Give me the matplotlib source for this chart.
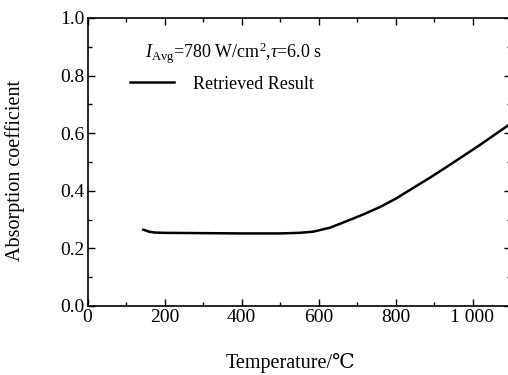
import matplotlib
matplotlib.use("Agg")
import matplotlib.pyplot as plt
from matplotlib.ticker import MultipleLocator, FixedLocator

plt.rcParams['font.family'] = ['Liberation Serif', 'DejaVu Serif', 'DejaVu Sans']
plt.rcParams['mathtext.fontset'] = 'custom'
plt.rcParams['mathtext.rm'] = 'Liberation Serif'
plt.rcParams['mathtext.it'] = 'Liberation Serif:italic'

temperature = [145, 160, 175, 200, 300, 400, 500, 550, 586, 630, 674, 720, 760, 800, 846, 890, 933, 975, 1019, 1060, 1100]
absorption = [0.265, 0.258, 0.255, 0.254, 0.253, 0.252, 0.252, 0.254, 0.258, 0.272, 0.295, 0.320, 0.344, 0.372, 0.410, 0.446, 0.483, 0.520, 0.559, 0.597, 0.634]
xtick_vals = [0, 200, 400, 600, 800, 1000]
xtick_labels = ['0', '200', '400', '600', '800', '1 000']
ytick_vals = [0.0, 0.2, 0.4, 0.6, 0.8, 1.0]

fig = plt.figure(figsize=(5.08, 3.75), dpi=100)
ax = fig.add_axes([87.5/508, (375-306)/375, (511-87.5)/508, (306-18)/375])

ax.plot(temperature, absorption, color='black', lw=1.8, label='Retrieved Result')

ax.set_xlim(0, 1100)
ax.set_ylim(0, 1.0)
ax.xaxis.set_major_locator(FixedLocator(xtick_vals))
ax.set_xticklabels(xtick_labels)
ax.xaxis.set_minor_locator(MultipleLocator(100))
ax.yaxis.set_major_locator(FixedLocator(ytick_vals))
ax.set_yticklabels([f'{v:.1f}' for v in ytick_vals])
ax.yaxis.set_minor_locator(MultipleLocator(0.1))
ax.tick_params(which='both', direction='in', top=True, right=True, labelsize=14, width=1.0)
ax.tick_params(which='major', length=5, pad=2)
ax.tick_params(which='minor', length=3)
for s in ax.spines.values():
    s.set_linewidth(1.2)

ax.set_xlabel('Temperature/\u2103', fontsize=14.5, va='center')
ax.xaxis.set_label_coords(0.48, -0.198)
ax.set_ylabel('Absorption coefficient', fontsize=14.5, va='center')
ax.yaxis.set_label_coords(-0.171, 0.472)

ax.text(0.136, 0.877, r'$I_{\rm Avg}$=780 W/cm$^{2}$,$\tau$=6.0 s', transform=ax.transAxes,
        fontsize=13, va='center', ha='left')
leg = ax.legend(loc='upper left', bbox_to_anchor=(0.063, 0.8565), frameon=False, fontsize=13,
                handlelength=2.4, handletextpad=1.05)

fig.savefig('out.png', dpi=100)
